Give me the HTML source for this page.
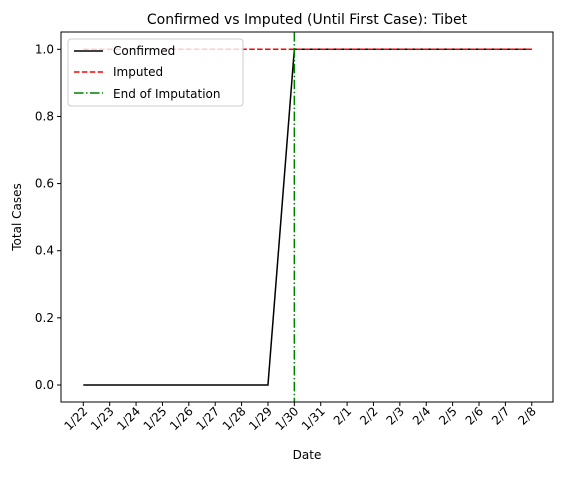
<!DOCTYPE html>
<html><head><meta charset="utf-8"><style>
body{margin:0;background:#fff;}
svg text{font-family:"DejaVu Sans","Liberation Sans",sans-serif;fill:#000;}
</style></head><body>
<svg id="chart" width="567" height="473" xmlns="http://www.w3.org/2000/svg">
<rect width="567" height="473" fill="#fff"/>
<text x="307" y="24" font-size="14" text-anchor="middle">Confirmed vs Imputed (Until First Case): Tibet</text>
<g id="series"></g>
<rect x="61" y="32" width="492" height="370" fill="none" stroke="#000" stroke-width="1"/>
<g id="xticks"></g><g id="yticks"></g>
<text x="307" y="459" font-size="12" text-anchor="middle">Date</text>
<text transform="translate(21,217) rotate(-90)" font-size="12" text-anchor="middle">Total Cases</text>
<g>
<rect x="68" y="39" width="175" height="67" rx="3" fill="#fff" fill-opacity="0.8" stroke="#ccc"/>
<line x1="74" y1="51" x2="103" y2="51" stroke="#000" stroke-width="1.5"/>
<text x="113" y="55" font-size="12">Confirmed</text>
<line x1="74" y1="72" x2="103" y2="72" stroke="red" stroke-width="1.5" stroke-dasharray="5.5,2.4"/>
<text x="113" y="76" font-size="12">Imputed</text>
<line x1="74" y1="93" x2="103" y2="93" stroke="green" stroke-width="1.5" stroke-dasharray="9.6,2.4,1.5,2.4"/>
<text x="113" y="98" font-size="12">End of Imputation</text>
</g>
</svg>
<script>
const dates=["1/22","1/23","1/24","1/25","1/26","1/27","1/28","1/29","1/30","1/31","2/1","2/2","2/3","2/4","2/5","2/6","2/7","2/8"];
const confirmed=[0,0,0,0,0,0,0,0,1,1,1,1,1,1,1,1,1,1];
const imputed=[1,1,1,1,1,1,1,1,1,1,1,1,1,1,1,1,1,1];
const endIndex=8;
const yTicks=[0,0.2,0.4,0.6,0.8,1.0];
const NS="http://www.w3.org/2000/svg";
const X=i=>83.3+i*26.38;
const Y=v=>385-v*335.7;
function mk(t,a,p){const e=document.createElementNS(NS,t);for(const k in a)e.setAttribute(k,a[k]);p.appendChild(e);return e;}
const S=document.getElementById('series');
const con=mk('polyline',{points:confirmed.map((v,i)=>X(i)+','+Y(v)).join(' '),fill:'none',stroke:'#000','stroke-width':1.5},S);


const imp=mk('polyline',{points:imputed.map((v,i)=>X(i)+','+Y(v)).join(' '),fill:'none',stroke:'red','stroke-width':1.5,'stroke-dasharray':'5.5,2.4'},S);


const vl=mk('line',{x1:X(endIndex),x2:X(endIndex),y1:32,y2:402,stroke:'green','stroke-width':1.5,'stroke-dasharray':'9.6,2.4,1.5,2.4'},S);


const XT=document.getElementById('xticks');
dates.forEach((d,i)=>{
 mk('line',{x1:X(i),x2:X(i),y1:402,y2:406,stroke:'#000'},XT);
 const t=mk('text',{transform:`translate(${X(i)+5},${412}) rotate(-45)`,'font-size':12,'text-anchor':'end'},XT);
 t.textContent=d;
 
 
});
const YT=document.getElementById('yticks');
yTicks.forEach(v=>{
 mk('line',{x1:57,x2:61,y1:Y(v),y2:Y(v),stroke:'#000'},YT);
 const t=mk('text',{x:54,y:Y(v)+4,'font-size':12,'text-anchor':'end'},YT);
 t.textContent=v.toFixed(1);
 
 
});
</script>
</body></html>
